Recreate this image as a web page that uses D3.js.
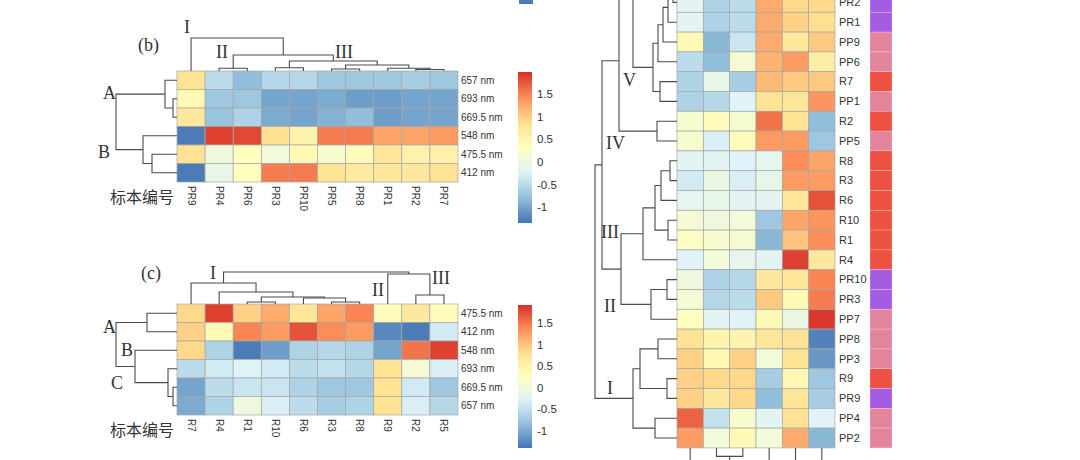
<!DOCTYPE html>
<html>
<head>
<meta charset="utf-8">
<script src="https://cdn.jsdelivr.net/npm/d3@7"></script>
<style>
body { margin: 0; background: #fff; }
svg { display: block; }
</style>
</head>
<body>
<svg id="chart" width="1080" height="460"></svg>
<script>
// ---- data ----
// trees are [height, left, right], leaves are names

// panel (b): PR samples
var bRows = ['657 nm', '693 nm', '669.5 nm', '548 nm', '475.5 nm', '412 nm'];
var bCols = ['PR9', 'PR4', 'PR6', 'PR3', 'PR10', 'PR5', 'PR8', 'PR1', 'PR2', 'PR7'];
var bValues = [
  [0.8, -0.5, -0.8, -0.55, -0.55, -0.7, -0.7, -0.7, -0.65, -0.7],
  [0.4, -0.7, -0.7, -1.0, -1.0, -0.95, -1.05, -1.05, -1.0, -1.0],
  [0.7, -0.75, -0.6, -0.95, -1.0, -0.9, -0.8, -1.05, -1.0, -1.0],
  [-1.3, 1.85, 1.8, 0.85, 0.5, 1.5, 1.5, 1.25, 1.25, 1.3],
  [0.8, 0.0, 0.3, 0.05, 0.4, 0.15, 0.35, 0.75, 0.55, 0.55],
  [-1.3, -0.1, 0.3, 1.5, 1.5, 0.8, 0.65, 0.7, 0.7, 0.8]
];
var bColTree = [33, 'PR9', [16, [2.7, 'PR4', 'PR6'],
  [10, [3.3, 'PR3', 'PR10'], [6, [2, 'PR5', 'PR8'], [2.7, 'PR1', [1.5, 'PR2', 'PR7']]]]]];
var bRowTree = [61, [12, '657 nm', [4, '693 nm', '669.5 nm']], [34, '548 nm', [25, '475.5 nm', '412 nm']]];

// panel (c): R samples
var cRows = ['475.5 nm', '412 nm', '548 nm', '693 nm', '669.5 nm', '657 nm'];
var cCols = ['R7', 'R4', 'R1', 'R10', 'R6', 'R3', 'R8', 'R9', 'R2', 'R5'];
var cValues = [
  [0.9, 1.85, 0.95, 1.2, 0.75, 1.25, 1.45, 0.35, 0.7, 0.35],
  [0.95, 0.4, 1.45, 1.3, 1.75, 1.4, 1.3, -1.2, -1.3, -0.35],
  [0.9, -0.6, -1.3, -1.05, -0.6, -0.55, -0.6, -1.0, 1.55, 1.85],
  [-0.5, -0.35, -0.25, -0.35, -0.5, -0.45, -0.55, 0.8, 0.1, -0.3],
  [-1.0, -0.5, -0.4, -0.4, -0.6, -0.7, -0.7, 0.8, -0.35, -0.7],
  [-0.95, -0.6, 0.0, -0.3, -0.5, -0.65, -0.6, 0.8, -0.3, -0.55]
];
var cColTree = [32, [21, 'R7', [12, 'R4', [7, [2, 'R1', 'R10'], [6, 'R6', [2, 'R3', 'R8']]]]],
  [30, 'R9', [9, 'R2', 'R5']]];
var cRowTree = [61, [30, '475.5 nm', '412 nm'], [42, '548 nm', [9, '693 nm', [4, '669.5 nm', '657 nm']]]];

// right panel: all samples (top rows are cut off by the crop)
var rHidden = ['R5', 'PP10', 'PR4', 'PR5', 'PR6', 'PR7', 'PR8'];
var rRows = ['PR2', 'PR1', 'PP9', 'PP6', 'R7', 'PP1', 'R2', 'PP5', 'R8', 'R3', 'R6', 'R10',
  'R1', 'R4', 'PR10', 'PR3', 'PP7', 'PP8', 'PP3', 'R9', 'PR9', 'PP4', 'PP2'];
var rCols = ['657 nm', '693 nm', '669.5 nm', '548 nm', '475.5 nm', '412 nm'];
var rValues = [
  [-0.2, -0.6, -0.5, 1.2, 0.9, 0.9],
  [-0.2, -0.6, -0.5, 1.2, 0.95, 0.85],
  [0.4, -0.85, -0.4, 1.2, 0.7, 1.0],
  [-0.5, -0.8, 0.1, 1.15, 1.3, 0.6],
  [-0.6, -0.1, -0.65, 1.1, 1.0, 1.0],
  [-0.6, -0.55, -0.25, 0.8, 0.75, 1.35],
  [0.15, 0.35, 0.15, 1.55, 0.8, -0.8],
  [0.15, -0.3, 0.35, 1.3, 1.3, -0.7],
  [-0.2, -0.2, -0.25, -0.15, 1.4, 1.25],
  [-0.35, -0.05, -0.3, -0.1, 1.3, 1.3],
  [-0.15, -0.1, -0.2, -0.2, 0.75, 1.75],
  [0.1, 0.0, 0.05, -0.7, 1.25, 1.35],
  [0.25, 0.15, 0.1, -0.85, 1.05, 1.4],
  [-0.25, 0.05, -0.15, -0.2, 1.85, 0.7],
  [0.0, -0.6, -0.55, 0.7, 0.75, 1.45],
  [0.1, -0.55, -0.5, 1.0, 0.4, 1.5],
  [0.3, -0.2, -0.25, 0.4, -0.05, 1.9],
  [0.8, 0.5, 0.5, 0.75, 0.8, -1.25],
  [0.95, 0.45, 0.95, 0.05, 0.8, -1.1],
  [0.95, 0.9, 0.9, -0.65, 0.45, -0.7],
  [0.95, 0.7, 0.9, -0.8, 0.75, -0.65],
  [1.65, -0.45, 0.15, -0.2, 0.8, -0.25],
  [1.3, 0.05, 0.4, 0.05, 1.2, -0.85]
];
var rRowTree = [82,
  [75,
    [58,
      [44,
        [30, [20, [6, 'R5', 'PP10'], 'PR4'], [14, 'PR5', [8, 'PR6', 'PR7']]],
        [24, [19, [14, [9, [4, 'PR8', 'PR2'], 'PR1'], 'PP9'], 'PP6'], [17, 'R7', 'PP1']]],
      [20, 'R2', 'PP5']],
    [56,
      [34, [22, [16, [7, 'R8', 'R3'], 'R6'], [9, 'R10', 'R1']], 'R4'],
      [26, [10, 'PR10', 'PR3'], 'PP7']]],
  [44, [37, [19, 'PP8', 'PP3'], [10, 'R9', 'PR9']], [22, 'PP4', 'PP2']]];
var rColTree = [40, [30, '657 nm', [8.5, '693 nm', '669.5 nm']], [35, '548 nm', [25, '475.5 nm', '412 nm']]];
var groupNames = ['PR', 'PP', 'R'];
var groupColors = ['#a45de2', '#e3849d', '#ee5142'];

var colorStops = [-1.35, -0.8, -0.25, 0.3, 0.85, 1.4, 1.95];
var colorRange = ['#4575b4', '#91bfdb', '#e0f3f8', '#ffffbf', '#fee090', '#fc8d59', '#d73027'];
var barTicks = [-1, -0.5, 0, 0.5, 1, 1.5];

// ---- drawing ----
var svg = d3.select('#chart');
var color = d3.scaleLinear().domain(colorStops).range(colorRange).clamp(true);
var sans = 'Liberation Sans, Arial, sans-serif';
var serif = 'Liberation Serif, Times New Roman, serif';

function drawTree(g, tree, pos, hScale, side) {
  var links = [];
  function walk(node) {
    if (typeof node === 'string') return { p: pos(node), h: 0 };
    var a = walk(node[1]), b = walk(node[2]);
    links.push([a, b, node[0]]);
    return { p: (a.p + b.p) / 2, h: node[0] };
  }
  walk(tree);
  var s = (side === 'top' || side === 'left') ? -1 : 1;
  g.selectAll('path')
    .data(links)
    .enter()
    .append('path')
    .attr('d', function (d) {
      var p = d3.path(), a = d[0], b = d[1], h = s * hScale(d[2]);
      if (side === 'top' || side === 'bottom') {
        p.moveTo(a.p, s * hScale(a.h)); p.lineTo(a.p, h); p.lineTo(b.p, h); p.lineTo(b.p, s * hScale(b.h));
      } else {
        p.moveTo(s * hScale(a.h), a.p); p.lineTo(h, a.p); p.lineTo(h, b.p); p.lineTo(s * hScale(b.h), b.p);
      }
      return p.toString();
    })
    .attr('fill', 'none')
    .attr('stroke', '#4a4a4a')
    .attr('stroke-width', 1.1);
}

function drawCells(rows, cols, values, x, y) {
  var cells = [];
  values.forEach(function (r, i) {
    r.forEach(function (v, j) { cells.push({ row: rows[i], col: cols[j], v: v }); });
  });
  svg.append('g')
    .selectAll('rect')
    .data(cells)
    .enter()
    .append('rect')
    .attr('x', function (d) { return x(d.col); })
    .attr('y', function (d) { return y(d.row); })
    .attr('width', x.bandwidth())
    .attr('height', y.bandwidth())
    .attr('fill', function (d) { return color(d.v); })
    .attr('stroke', '#a6a6a6')
    .attr('stroke-width', 0.7);
}

var defs = svg.append('defs');
var grad = defs.append('linearGradient').attr('id', 'bar').attr('x1', 0).attr('y1', 1).attr('x2', 0).attr('y2', 0);
d3.range(0, 1.0001, 0.05).forEach(function (t) {
  grad.append('stop').attr('offset', t)
    .attr('stop-color', color(colorStops[0] + t * (colorStops[6] - colorStops[0])));
});

function colorBar(x0, yTop, yBot, dom, axis) {
  var y = d3.scaleLinear().domain(dom).range([yBot, yTop]);
  svg.append('rect')
    .attr('x', x0).attr('y', yTop)
    .attr('width', 14).attr('height', yBot - yTop)
    .attr('fill', 'url(#bar)');
  if (!axis) return;
  var g = svg.append('g')
    .attr('transform', 'translate(' + (x0 + 14) + ',0)')
    .call(d3.axisRight(y).tickValues(barTicks).tickSize(0).tickPadding(5)
      .tickFormat(function (d) { return String(d); }));
  g.select('.domain').remove();
  g.selectAll('text').attr('font-family', sans).attr('font-size', 11.5).attr('fill', '#333');
}

function label(txt, x, y, size, font, anchor) {
  svg.append('text')
    .attr('x', x).attr('y', y)
    .attr('font-family', font).attr('font-size', size)
    .attr('text-anchor', anchor || 'start')
    .attr('fill', '#333')
    .text(txt);
}

function smallPanel(p) {
  var x = d3.scaleBand().domain(p.cols).range([177, 458]);
  var y = d3.scaleBand().domain(p.rows).range([p.top, p.top + 111]);
  drawCells(p.rows, p.cols, p.values, x, y);

  var colH = d3.scaleLinear().domain([0, 1]).range([0, 1]);
  drawTree(svg.append('g').attr('transform', 'translate(0,' + p.top + ')'),
    p.colTree, function (n) { return x(n) + x.bandwidth() / 2; }, colH, 'top');
  drawTree(svg.append('g').attr('transform', 'translate(177,0)'),
    p.rowTree, function (n) { return y(n) + y.bandwidth() / 2; }, colH, 'left');

  svg.append('g')
    .selectAll('text')
    .data(p.rows)
    .enter()
    .append('text')
    .attr('x', 461)
    .attr('y', function (d) { return y(d) + y.bandwidth() / 2; })
    .attr('dy', '0.35em')
    .attr('font-family', sans).attr('font-size', 10).attr('fill', '#333')
    .text(function (d) { return d; });

  svg.append('g')
    .selectAll('text')
    .data(p.cols)
    .enter()
    .append('text')
    .attr('transform', function (d) {
      return 'translate(' + (x(d) + x.bandwidth() / 2) + ',' + (p.top + 115) + ') rotate(90)';
    })
    .attr('dy', '0.35em')
    .attr('font-family', sans).attr('font-size', 10).attr('fill', '#333')
    .text(function (d) { return d; });

  label('标本编号', 110, p.top + 132, 16, 'Noto Sans CJK SC, sans-serif');
}

// panel (b)
smallPanel({ rows: bRows, cols: bCols, values: bValues, top: 71, colTree: bColTree, rowTree: bRowTree });
colorBar(518, 72, 223, [-1.35, 1.98], true);
label('(b)', 138, 51, 18, serif);
label('I', 184, 33, 18, serif);
label('II', 216, 58, 18, serif);
label('III', 335, 58, 18, serif);
label('A', 103, 99, 18, serif);
label('B', 98, 158, 18, serif);

// panel (c)
smallPanel({ rows: cRows, cols: cCols, values: cValues, top: 304, colTree: cColTree, rowTree: cRowTree });
colorBar(518, 305, 448, [-1.4, 1.92], true);
label('(c)', 141, 279, 18, serif);
label('I', 210, 279, 18, serif);
label('II', 372, 296, 18, serif);
label('III', 432, 284, 18, serif);
label('A', 103, 333, 18, serif);
label('B', 121, 356, 18, serif);
label('C', 111, 389, 18, serif);

// colour bar of the panel above (cropped)
colorBar(519, -150, 4, [-1.35, 1.98], false);

// right panel
var rx = d3.scaleBand().domain(rCols).range([677, 835]);
var ry = d3.scaleBand().domain(rHidden.concat(rRows)).range([-7.5 - 19.8 * rHidden.length, 447.9]);
drawCells(rRows, rCols, rValues, rx, ry);
var rH = d3.scaleLinear().domain([0, 1]).range([0, 1]);
drawTree(svg.append('g').attr('transform', 'translate(677,0)'),
  rRowTree, function (n) { return ry(n) + ry.bandwidth() / 2; }, rH, 'left');
drawTree(svg.append('g').attr('transform', 'translate(0,447.9)'),
  rColTree, function (n) { return rx(n) + rx.bandwidth() / 2; }, rH, 'bottom');

svg.append('g')
  .selectAll('text')
  .data(rRows)
  .enter()
  .append('text')
  .attr('x', 839)
  .attr('y', function (d) { return ry(d) + ry.bandwidth() / 2; })
  .attr('dy', '0.35em')
  .attr('font-family', sans).attr('font-size', 11).attr('fill', '#333')
  .text(function (d) { return d; });

var group = d3.scaleOrdinal().domain(groupNames).range(groupColors);
svg.append('g')
  .selectAll('rect')
  .data(rRows)
  .enter()
  .append('rect')
  .attr('x', 870)
  .attr('y', function (d) { return ry(d); })
  .attr('width', 22)
  .attr('height', ry.bandwidth())
  .attr('fill', function (d) { return group(d.replace(/[0-9]+$/, '')); })
  .attr('stroke', 'rgba(255,255,255,0.35)')
  .attr('stroke-width', 0.6);

label('V', 623, 86, 18, serif);
label('IV', 606, 149, 18, serif);
label('III', 601, 238, 18, serif);
label('II', 604, 312, 18, serif);
label('I', 607, 394, 18, serif);
</script>
</body>
</html>
